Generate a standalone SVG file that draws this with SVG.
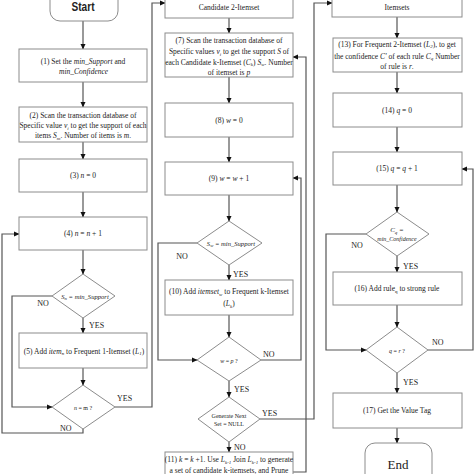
<svg xmlns="http://www.w3.org/2000/svg" width="474" height="474" viewBox="0 0 474 474">
<defs>
<marker id="ah" markerWidth="6" markerHeight="6" refX="5" refY="3" orient="auto" markerUnits="userSpaceOnUse">
<path d="M0,0.5 L5.5,3 L0,5.5 Z" fill="#111"/>
</marker>
<style>
.box{fill:#fff;stroke:#8c8c8c;stroke-width:1}
.dia{fill:#fff;stroke:#8c8c8c;stroke-width:1}
.ln{fill:none;stroke:#555;stroke-width:1.2}
.ar{fill:none;stroke:#555;stroke-width:1.2;marker-end:url(#ah)}
text{font-family:"Liberation Serif","Times New Roman",serif;font-size:7.5px;fill:#222}
.c{text-anchor:middle}
.i{font-style:italic}
.lbl{font-size:8px}
.sm{font-size:6px}
.dt{font-size:6.6px}
</style>
</defs>
<rect width="474" height="474" fill="#fff"/>

<g id="connectors">
<line class="ar" x1="83" y1="21" x2="83" y2="49"/>
<line class="ar" x1="83" y1="82" x2="83" y2="107"/>
<line class="ar" x1="83" y1="142" x2="83" y2="159"/>
<line class="ar" x1="83" y1="192" x2="83" y2="217"/>
<line class="ar" x1="83" y1="250" x2="83" y2="274"/>
<line class="ar" x1="83" y1="318" x2="83" y2="333"/>
<line class="ar" x1="83" y1="368" x2="83" y2="385"/>
<polyline class="ar" points="52,296 12,296 12,407 52,407"/>
<polyline class="ar" points="115,407 152,407 152,3 165,3"/>
<polyline class="ar" points="83,429 83,433 2,433 2,234 19,234"/>

<line class="ar" x1="229" y1="18" x2="229" y2="33"/>
<line class="ar" x1="229" y1="77" x2="229" y2="103"/>
<line class="ar" x1="229" y1="137" x2="229" y2="162"/>
<line class="ar" x1="229" y1="195" x2="229" y2="221"/>
<line class="ar" x1="229" y1="265" x2="229" y2="280"/>
<line class="ar" x1="229" y1="315" x2="229" y2="337"/>
<line class="ar" x1="229" y1="381" x2="229" y2="397"/>
<line class="ar" x1="229" y1="442" x2="229" y2="452"/>
<polyline class="ar" points="197,243 158,243 158,360 197,360"/>
<polyline class="ar" points="261,360 301,360 301,178 293,178"/>
<polyline class="ar" points="260,419 314,419 314,3 332,3"/>
<polyline class="ar" points="293,472 306,472 306,57 293,57"/>

<line class="ar" x1="397" y1="17" x2="397" y2="38"/>
<line class="ar" x1="397" y1="72" x2="397" y2="93"/>
<line class="ar" x1="397" y1="127" x2="397" y2="152"/>
<line class="ar" x1="397" y1="185" x2="397" y2="212"/>
<line class="ar" x1="397" y1="256" x2="397" y2="272"/>
<line class="ar" x1="397" y1="305" x2="397" y2="327"/>
<line class="ar" x1="397" y1="373" x2="397" y2="393"/>
<line class="ar" x1="397" y1="428" x2="397" y2="443"/>
<polyline class="ar" points="366,234 326,234 326,350 366,350"/>
<polyline class="ar" points="428,350 473,350 473,169 462,169"/>

<text class="lbl" x="43" y="306" text-anchor="middle">NO</text>
<text class="lbl" x="89" y="328">YES</text>
<text class="lbl" x="117" y="401">YES</text>
<text class="lbl" x="60" y="431">NO</text>
<text class="lbl" x="182" y="259" text-anchor="middle">NO</text>
<text class="lbl" x="233" y="277">YES</text>
<text class="lbl" x="263" y="357">NO</text>
<text class="lbl" x="234" y="392">YES</text>
<text class="lbl" x="262" y="416">YES</text>
<text class="lbl" x="234" y="450">NO</text>
<text class="lbl" x="357" y="248" text-anchor="middle">NO</text>
<text class="lbl" x="403" y="269">YES</text>
<text class="lbl" x="432" y="345">NO</text>
<text class="lbl" x="403" y="385">YES</text>
</g>

<g id="start">
<rect class="box" x="50" y="-20" width="68" height="41" rx="10"/>
<text x="83" y="10.5" class="c" style="font-family:'Liberation Sans Narrow','Liberation Sans',sans-serif;font-weight:bold;font-size:12px" textLength="23" lengthAdjust="spacingAndGlyphs">Start</text>
</g>
<g id="n1">
<rect class="box" x="19" y="49" width="128" height="33"/>
<text x="83" y="63.5" class="c">(1) Set the <tspan class="i">min_Support</tspan> and</text>
<text x="59" y="74" class="i">min_Confidence</text>
</g>
<g id="n2">
<rect class="box" x="19" y="107" width="128" height="35"/>
<text x="83" y="118" class="c">(2) Scan the transaction database of</text>
<text x="83" y="128" class="c">Specific value <tspan class="i">v</tspan><tspan class="i" font-size="5" dy="1.5">i</tspan><tspan dy="-1.5">  to get the support of each</tspan></text>
<text x="83" y="138" class="c">items <tspan class="i">S</tspan><tspan class="i" font-size="5" dy="1.5">m</tspan><tspan dy="-1.5">. Number of items is </tspan><tspan class="i">m</tspan>.</text>
</g>
<g id="n3">
<rect class="box" x="19" y="159" width="128" height="33"/>
<text x="83" y="178" class="c">(3) <tspan class="i">n</tspan> = 0</text>
</g>
<g id="n4">
<rect class="box" x="19" y="217" width="128" height="33"/>
<text x="83" y="236" class="c">(4) <tspan class="i">n</tspan> = <tspan class="i">n</tspan> + 1</text>
</g>
<g id="d1">
<polygon class="dia" points="83,274 115,296 83,318 52,296"/>
<text x="85" y="298.5" class="c dt i">S<tspan font-size="4.8" dy="1.3">n</tspan><tspan dy="-1.3">   = min_Support</tspan></text>
</g>
<g id="n5">
<rect class="box" x="19" y="333" width="128" height="35"/>
<text x="84" y="353.5" class="c">(5) Add <tspan class="i">item</tspan><tspan class="i" font-size="5" dy="1.5">n</tspan><tspan dy="-1.5"> to Frequent 1-Itemset (</tspan><tspan class="i">L</tspan><tspan class="i" font-size="5" dy="1.5">1</tspan><tspan dy="-1.5">)</tspan></text>
</g>
<g id="d2">
<polygon class="dia" points="83,385 115,407 83,429 52,407"/>
<text x="83" y="409.5" class="c sm"><tspan class="i">n</tspan> = m ?</text>
</g>

<g id="n6">
<rect class="box" x="165" y="-20" width="128" height="38"/>
<text x="229" y="10" class="c">Candidate 2-Itemset</text>
</g>
<g id="n7">
<rect class="box" x="165" y="33" width="128" height="44"/>
<text x="229" y="42.5" class="c">(7) Scan the transaction database of</text>
<text x="229" y="54" class="c">Specific values <tspan class="i">v</tspan><tspan class="i" font-size="5" dy="1.5">i</tspan><tspan dy="-1.5"> to get the support </tspan><tspan class="i">S</tspan> of</text>
<text x="229" y="64.5" class="c">each Candidate k-Itemset (<tspan class="i">C</tspan><tspan class="i" font-size="5" dy="1.5">k</tspan><tspan dy="-1.5">) </tspan><tspan class="i">S</tspan><tspan class="i" font-size="5" dy="1.5">w</tspan><tspan dy="-1.5">. Number</tspan></text>
<text x="229" y="74.5" class="c">of itemset is <tspan class="i">p</tspan></text>
</g>
<g id="n8">
<rect class="box" x="165" y="103" width="128" height="34"/>
<text x="229" y="122.5" class="c">(8) <tspan class="i">w</tspan> = 0</text>
</g>
<g id="n9">
<rect class="box" x="165" y="162" width="128" height="33"/>
<text x="229" y="181" class="c">(9) <tspan class="i">w</tspan> = <tspan class="i">w</tspan> + 1</text>
</g>
<g id="d3">
<polygon class="dia" points="229,221 262,243 229,265 197,243"/>
<text x="231" y="245.5" class="c dt i">S<tspan font-size="4.8" dy="1.3">w</tspan><tspan dy="-1.3">   = min_Support</tspan></text>
</g>
<g id="n10">
<rect class="box" x="165" y="280" width="128" height="35"/>
<text x="229" y="294" class="c">(10) Add <tspan class="i">itemset</tspan><tspan class="i" font-size="5" dy="1.5">w</tspan><tspan dy="-1.5"> to Frequent k-Itemset</tspan></text>
<text x="229" y="306" class="c">(<tspan class="i">L</tspan><tspan class="i" font-size="5" dy="1.5">k</tspan><tspan dy="-1.5">)</tspan></text>
</g>
<g id="d4">
<polygon class="dia" points="229,337 261,360 229,381 197,360"/>
<text x="229" y="362.5" class="c sm"><tspan class="i">w</tspan> = <tspan class="i">p</tspan> ?</text>
</g>
<g id="d5">
<polygon class="dia" points="229,397 260,419 229,442 198,419"/>
<text x="229" y="417.5" class="c sm">Generate Next</text>
<text x="229" y="426" class="c sm">Set = NULL</text>
</g>
<g id="n11">
<rect class="box" x="165" y="452" width="128" height="40"/>
<text x="229" y="462" class="c">(11) <tspan class="i">k</tspan> = <tspan class="i">k</tspan> +1. Use <tspan class="i">L</tspan><tspan class="i" font-size="5" dy="1.5">k-1</tspan><tspan dy="-1.5"> Join </tspan><tspan class="i">L</tspan><tspan class="i" font-size="5" dy="1.5">k-1</tspan><tspan dy="-1.5"> to generate</tspan></text>
<text x="229" y="473" class="c">a set of candidate k-itemsets, and Prune</text>
</g>

<g id="n12">
<rect class="box" x="332" y="-20" width="130" height="37"/>
<text x="397" y="9.5" class="c">Itemsets</text>
</g>
<g id="n13">
<rect class="box" x="333" y="38" width="129" height="34"/>
<text x="397" y="46.7" class="c">(13) For Frequent 2-Itemset (<tspan class="i">L</tspan><tspan class="i" font-size="5" dy="1.5">2</tspan><tspan dy="-1.5">),  to get</tspan></text>
<text x="397" y="58.7" class="c">the confidence <tspan class="i">C'</tspan>  of each rule <tspan class="i">C</tspan><tspan class="i" font-size="5" dy="1.5">q</tspan><tspan dy="-1.5"> Number</tspan></text>
<text x="397" y="68.7" class="c">of rule is <tspan class="i">r</tspan>.</text>
</g>
<g id="n14">
<rect class="box" x="333" y="93" width="129" height="34"/>
<text x="397" y="112.5" class="c">(14) <tspan class="i">q</tspan> = 0</text>
</g>
<g id="n15">
<rect class="box" x="333" y="152" width="129" height="33"/>
<text x="397" y="170.5" class="c">(15) <tspan class="i">q</tspan> = <tspan class="i">q</tspan> + 1</text>
</g>
<g id="d6">
<polygon class="dia" points="397,212 429,234 397,256 366,234"/>
<text x="397" y="232" class="c i" style="font-size:7px">C<tspan font-size="5" dy="1.5">q</tspan><tspan dy="-1.5">  =</tspan></text>
<text x="397" y="241" class="c sm i">min_Confidence</text>
</g>
<g id="n16">
<rect class="box" x="333" y="272" width="129" height="33"/>
<text x="397" y="291" class="c">(16) Add rule<tspan font-size="5" dy="1.5">q</tspan><tspan dy="-1.5"> to strong rule</tspan></text>
</g>
<g id="d7">
<polygon class="dia" points="397,327 428,350 397,373 366,350"/>
<text x="397" y="352.5" class="c sm"><tspan class="i">q</tspan> = <tspan class="i">r</tspan> ?</text>
</g>
<g id="n17">
<rect class="box" x="333" y="393" width="129" height="35"/>
<text x="397" y="413" class="c">(17) Get the Value Tag</text>
</g>
<g id="end">
<rect class="box" x="365" y="443" width="67" height="50" rx="10"/>
<text x="398" y="469" class="c" style="font-size:13px">End</text>
</g>
</svg>
